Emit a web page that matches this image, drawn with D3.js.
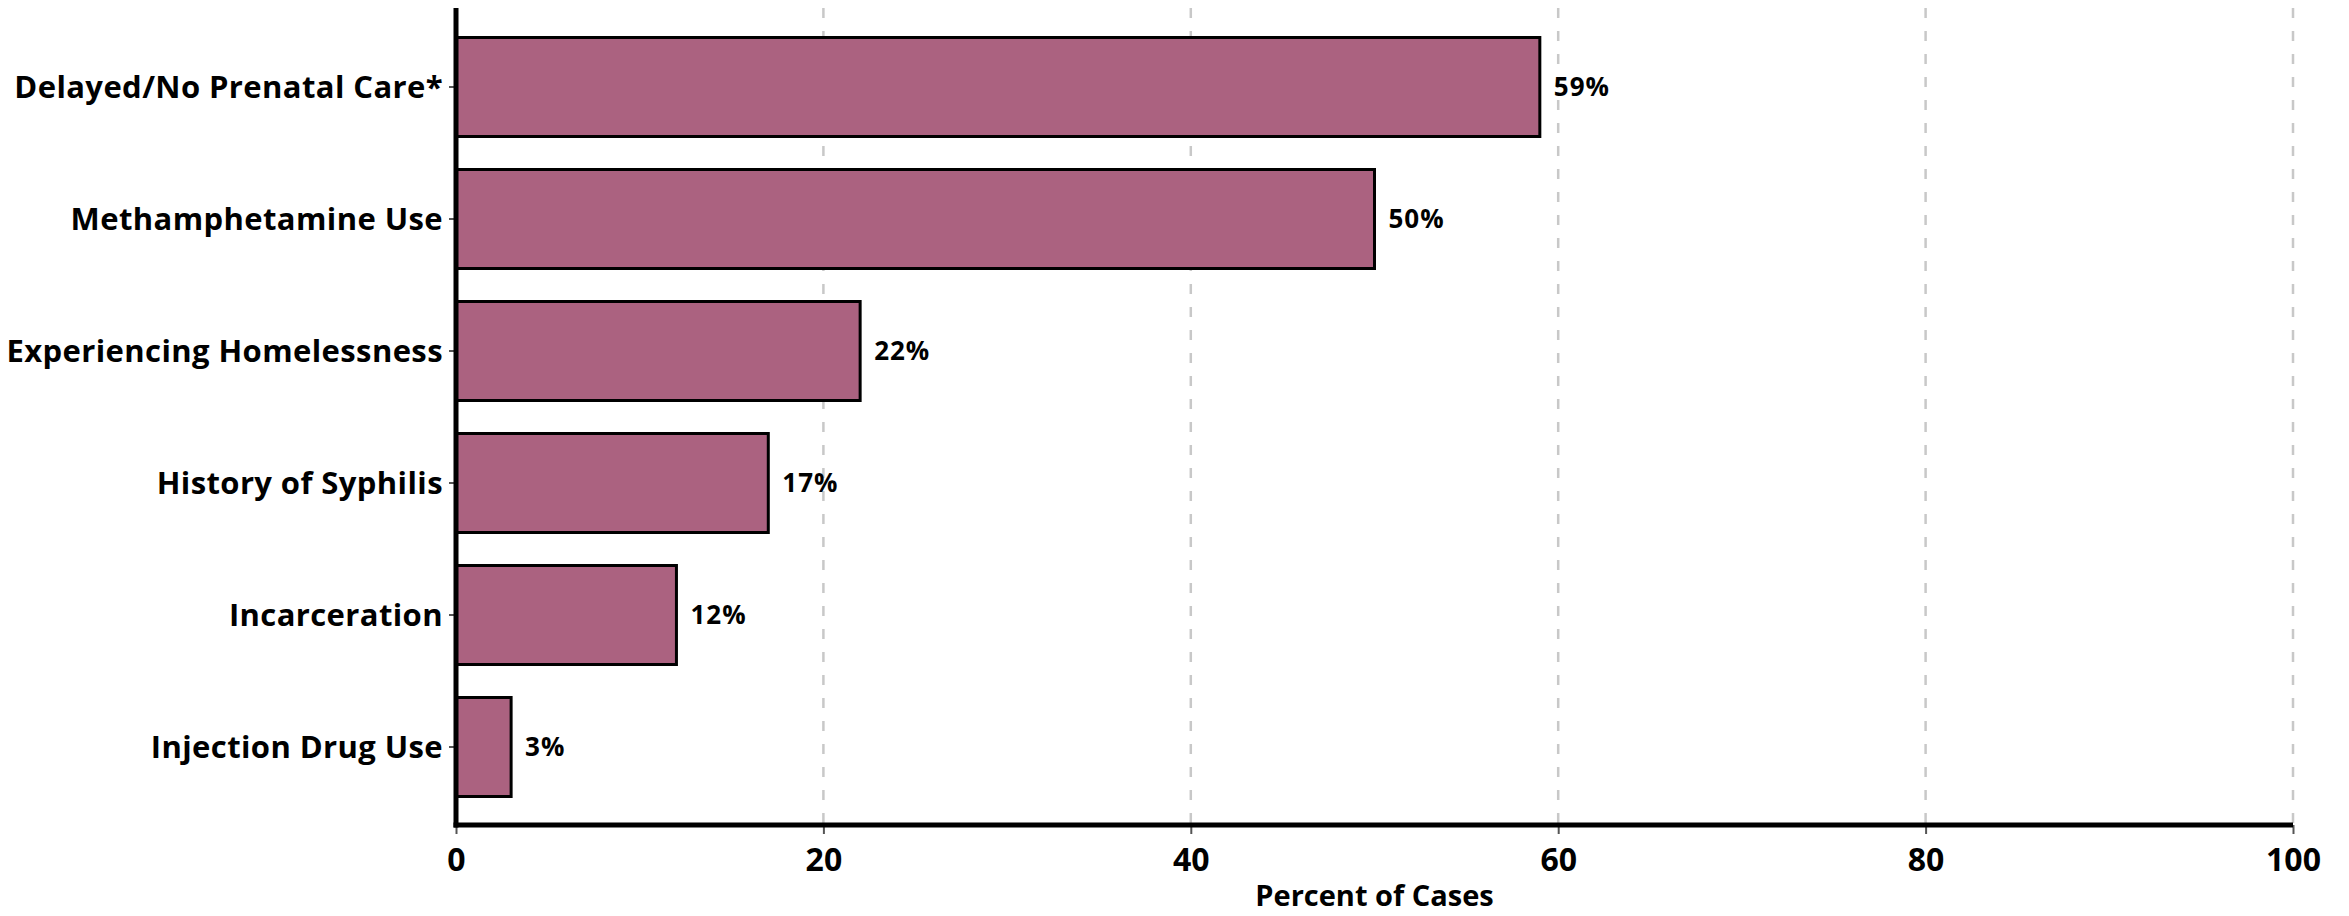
<!DOCTYPE html>
<html>
<head>
<meta charset="utf-8">
<script src="https://cdn.jsdelivr.net/npm/d3@7"></script>
<style>
  html, body { margin: 0; padding: 0; background: #ffffff; }
  svg { display: block; }
  text { font-family: "Open Sans", Lato, sans-serif; font-weight: 700; fill: #000; }
</style>
</head>
<body>
<svg id="chart" width="2349" height="916"></svg>
<script>
// Risk factors among cases, percent of cases
const categories = [
  "Delayed/No Prenatal Care*",
  "Methamphetamine Use",
  "Experiencing Homelessness",
  "History of Syphilis",
  "Incarceration",
  "Injection Drug Use"
];
const percents = [59, 50, 22, 17, 12, 3];
const xTicks = [0, 20, 40, 60, 80, 100];
const xTitle = "Percent of Cases";

const svg = d3.select("#chart");
const plotLeft = 456, plotRight = 2293, plotTop = 8, plotBottom = 825;
const fontStack = "'Open Sans', Lato, sans-serif";

const x = d3.scaleLinear().domain([0, 100]).range([plotLeft, plotRight]);
const y = d3.scaleBand()
  .domain(categories)
  .range([21, 813])
  .paddingInner(0.25)
  .paddingOuter(0.125);

// dashed vertical gridlines
svg.append("g")
  .selectAll("line")
  .data(xTicks.filter(d => d > 0))
  .join("line")
  .attr("x1", d => x(d)).attr("x2", d => x(d))
  .attr("y1", plotTop).attr("y2", plotBottom)
  .attr("stroke", "#c8c8c8")
  .attr("stroke-width", 2.5)
  .attr("stroke-dasharray", "10,13");

// bars
svg.append("g")
  .selectAll("rect")
  .data(percents)
  .join("rect")
  .attr("x", x(0))
  .attr("y", (d, i) => y(categories[i]))
  .attr("width", d => x(d) - x(0))
  .attr("height", y.bandwidth())
  .attr("fill", "#ab6280")
  .attr("stroke", "#000")
  .attr("stroke-width", 3);

// value labels
svg.append("g")
  .selectAll("text")
  .data(percents)
  .join("text")
  .attr("x", d => x(d) + 14)
  .attr("y", (d, i) => y(categories[i]) + y.bandwidth() / 2)
  .attr("dy", "0.36em")
  .attr("font-size", 26)
  .attr("letter-spacing", 1)
  .text(d => d + "%");

// y axis
const yAxis = svg.append("g")
  .attr("transform", `translate(${plotLeft},0)`)
  .call(d3.axisLeft(y).tickSize(6).tickPadding(6));
yAxis.select(".domain").remove();
yAxis.selectAll(".tick line").attr("stroke", "#555").attr("stroke-width", 2).attr("x2", -7).attr("x1", -2);
yAxis.selectAll(".tick text")
  .attr("font-size", 31)
  .attr("font-family", fontStack)
  .attr("font-weight", 700)
  .attr("letter-spacing", 0.4)
  .attr("fill", "#000")
  .attr("x", -13)
  .attr("dy", "0.36em");

// x axis
const xAxis = svg.append("g")
  .attr("transform", `translate(0,${plotBottom})`)
  .call(d3.axisBottom(x).tickValues(xTicks).tickSize(9).tickPadding(14));
xAxis.select(".domain").remove();
xAxis.selectAll(".tick line").attr("stroke", "#555").attr("stroke-width", 2);
xAxis.selectAll(".tick text")
  .attr("font-size", 32)
  .attr("font-family", fontStack)
  .attr("font-weight", 700)
  .attr("fill", "#000");

// axis lines
svg.append("line")
  .attr("x1", plotLeft).attr("x2", plotLeft)
  .attr("y1", plotTop).attr("y2", plotBottom + 2.5)
  .attr("stroke", "#000").attr("stroke-width", 5);
svg.append("line")
  .attr("x1", plotLeft - 2.5).attr("x2", plotRight)
  .attr("y1", plotBottom).attr("y2", plotBottom)
  .attr("stroke", "#000").attr("stroke-width", 5);

// axis title
svg.append("text")
  .attr("x", (plotLeft + plotRight) / 2)
  .attr("y", 906)
  .attr("text-anchor", "middle")
  .attr("font-size", 29)
  .text(xTitle);
</script>
</body>
</html>
